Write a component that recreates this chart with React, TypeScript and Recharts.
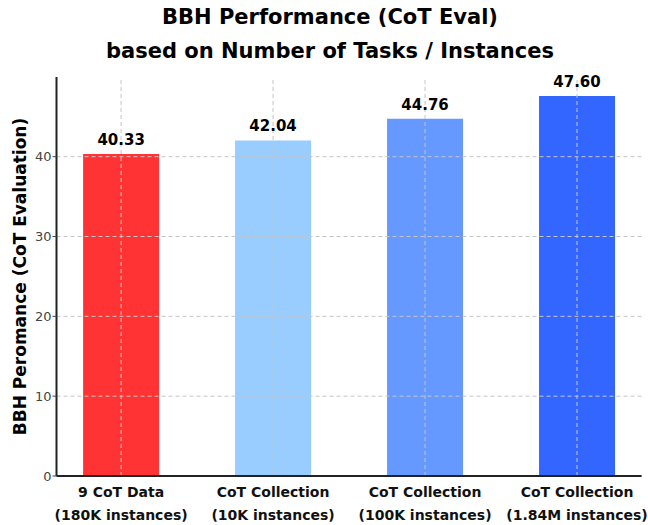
import React from 'react';
import { BarChart, Bar, XAxis, YAxis, LabelList, Cell, Label, ReferenceLine } from 'recharts';

const categories = ['9 CoT Data\n(180K instances)', 'CoT Collection\n(10K instances)', 'CoT Collection\n(100K instances)', 'CoT Collection\n(1.84M instances)'];
const scores = [40.33, 42.04, 44.76, 47.6];
const barColors = ['#FF3333', '#99CCFF', '#6699FF', '#3366FF'];
const yTicks = [0, 10, 20, 30, 40];
const xTicks = [0, 1, 2, 3];
const titleLines = ['BBH Performance (CoT Eval)', 'based on Number of Tasks / Instances'];
const yLabel = 'BBH Peromance (CoT Evaluation)';

const data = categories.map((c, i) => ({ idx: i, name: c, score: scores[i] }));

const FONT = '"DejaVu Sans", sans-serif';
const GRID = { stroke: '#c4c4c4', strokeDasharray: '4 3', strokeWidth: 1 };

const XTick = (props: any) => {
  const { x, y, payload } = props;
  const lines = categories[payload.value].split('\n');
  return (
    <g transform={`translate(${x},${y})`}>
      {lines.map((l, i) => (
        <text key={i} x={0} y={13 + i * 23} textAnchor="middle" fontFamily={FONT} fontWeight="bold" fontSize={14} fill="#111">
          {l}
        </text>
      ))}
    </g>
  );
};

const YLabelContent = (props: any) => {
  const { viewBox } = props;
  const cy = viewBox.y + viewBox.height / 2;
  return (
    <text x={20} y={cy} transform={`rotate(-90, 20, ${cy})`} textAnchor="middle" dominantBaseline="central" fontFamily={FONT} fontWeight="bold" fontSize={17} fill="#000">
      {yLabel}
    </text>
  );
};

export default function App() {
  return (
    <div style={{ position: 'absolute', left: 0, top: 0, width: 648, height: 525, background: '#fff' }}>
      <svg width={648} height={70} style={{ position: 'absolute', left: 0, top: 0 }}>
        {titleLines.map((t, i) => (
          <text key={i} x={330} y={24 + i * 34} textAnchor="middle" fontFamily={FONT} fontWeight="bold" fontSize={21} fill="#000">
            {t}
          </text>
        ))}
      </svg>
      <div style={{ position: 'absolute', left: 0, top: 0 }}>
        <BarChart width={648} height={525} data={data} margin={{ top: 77, right: 6.4, bottom: 0, left: 0.5 }}>
          <XAxis
            dataKey="idx"
            type="number"
            domain={[-0.425, 3.425]}
            ticks={xTicks}
            allowDataOverflow
            height={49}
            tick={<XTick />}
            tickLine={false}
            axisLine={{ stroke: '#222', strokeWidth: 2 }}
            interval={0}
          />
          <YAxis
            type="number"
            domain={[0, 49.98]}
            ticks={yTicks}
            allowDataOverflow
            width={56}
            tickSize={4}
            tickMargin={1}
            tick={{ fontFamily: FONT, fontSize: 13, fill: '#444' }}
            tickLine={{ stroke: '#444' }}
            axisLine={{ stroke: '#222', strokeWidth: 2 }}
          >
            <Label content={<YLabelContent />} />
          </YAxis>
          <Bar dataKey="score" barSize={76} isAnimationActive={false}>
            {data.map((d, i) => (
              <Cell key={i} fill={barColors[i]} />
            ))}
            <LabelList
              dataKey="score"
              position="top"
              offset={9}
              formatter={(v: any) => Number(v).toFixed(2)}
              style={{ fontFamily: FONT, fontWeight: 'bold', fontSize: 15, fill: '#000' }}
            />
          </Bar>
          {yTicks.filter((t) => t > 0).map((t) => (
            <ReferenceLine key={'h' + t} y={t} {...GRID} />
          ))}
          {xTicks.map((t) => (
            <ReferenceLine key={'v' + t} x={t} {...GRID} />
          ))}
        </BarChart>
      </div>
    </div>
  );
}
